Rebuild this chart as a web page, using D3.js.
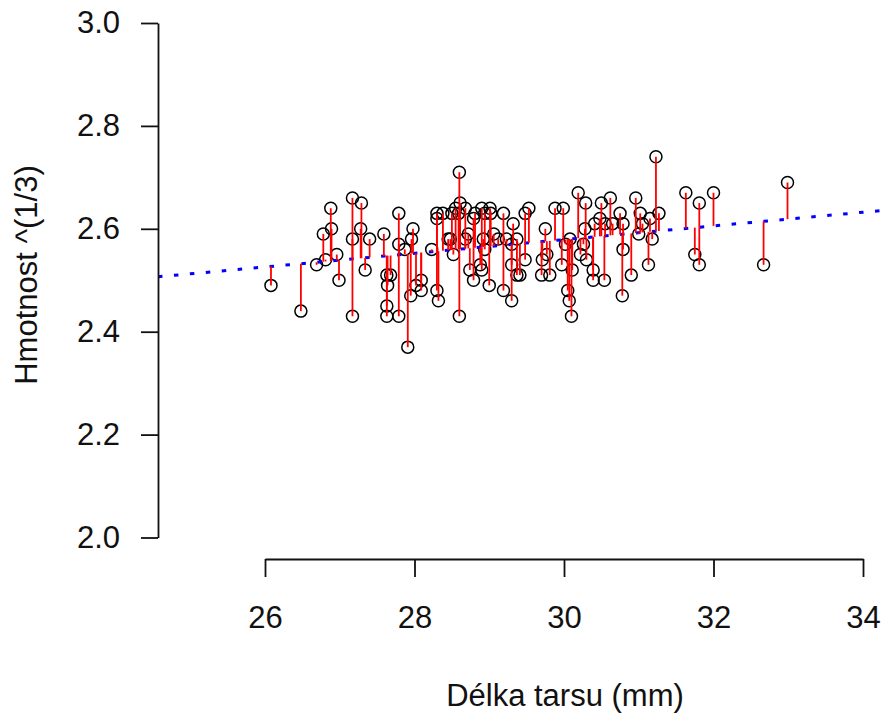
<!DOCTYPE html>
<html><head><meta charset="utf-8">
<script src="https://cdn.jsdelivr.net/npm/d3@7"></script>
<style>
html,body{margin:0;padding:0;background:#fff;}
text{font-family:"Liberation Sans",Arial,sans-serif;fill:#111;}
</style></head>
<body>
<script>
const tarsus = [26.08,26.48,26.69,26.78,26.88,26.89,26.81,26.96,26.99,27.17,27.17,27.17,27.29,27.28,27.40,27.34,27.59,27.63,27.64,27.63,27.63,27.68,27.79,27.79,27.79,27.91,27.87,27.98,27.96,28.09,27.95,28.09,28.02,28.30,28.30,28.23,28.30,28.32,28.38,28.45,28.52,28.50,28.48,28.55,28.60,28.60,28.61,28.59,28.68,28.68,28.72,28.74,28.79,28.81,28.79,28.90,28.92,28.94,28.90,28.88,28.94,29.00,29.01,29.02,29.06,29.12,29.19,29.19,29.23,29.30,29.30,29.30,29.32,29.37,29.37,29.41,29.48,29.53,29.48,29.71,29.70,29.75,29.77,29.81,29.88,29.99,29.97,30.05,30.07,30.10,30.08,30.11,30.02,30.19,30.29,30.28,30.22,30.30,30.26,30.39,30.39,30.41,30.50,30.54,30.62,30.55,30.48,30.65,30.75,30.79,30.79,30.78,30.90,30.96,31.02,31.00,31.13,31.05,31.23,31.27,31.15,31.18,31.63,31.81,31.75,31.81,32.00,32.67,32.99];
const massCbrt = [2.49,2.44,2.53,2.59,2.64,2.60,2.54,2.55,2.50,2.66,2.58,2.43,2.65,2.60,2.58,2.52,2.59,2.51,2.49,2.45,2.43,2.51,2.63,2.57,2.43,2.37,2.56,2.60,2.58,2.50,2.47,2.48,2.49,2.63,2.62,2.56,2.48,2.46,2.63,2.58,2.55,2.63,2.58,2.64,2.71,2.43,2.65,2.63,2.64,2.58,2.59,2.52,2.50,2.63,2.62,2.64,2.58,2.56,2.52,2.53,2.63,2.49,2.64,2.63,2.59,2.58,2.63,2.48,2.58,2.46,2.53,2.57,2.61,2.51,2.58,2.51,2.63,2.64,2.54,2.54,2.51,2.60,2.55,2.51,2.64,2.64,2.53,2.48,2.46,2.43,2.58,2.52,2.57,2.67,2.65,2.60,2.55,2.54,2.57,2.52,2.50,2.61,2.65,2.50,2.66,2.61,2.62,2.61,2.63,2.61,2.56,2.47,2.51,2.66,2.63,2.59,2.53,2.61,2.74,2.63,2.62,2.58,2.67,2.65,2.55,2.53,2.67,2.53,2.69];
const xTicks = [26,28,30,32,34];
const yTicks = [2.0,2.2,2.4,2.6,2.8,3.0];
const fitIntercept = 2.180;
const fitSlope = 0.0133;
const xLabel = "Délka tarsu (mm)";
const yLabel = "Hmotnost ^(1/3)";

const W = 884, H = 713;
const svg = d3.select("body").append("svg").attr("width", W).attr("height", H);

const x = d3.scaleLinear().domain([26, 34]).range([265, 863]);
const y = d3.scaleLinear().domain([2, 3]).range([537.5, 23]);
const fit = v => fitIntercept + fitSlope * v;

svg.append("defs").append("clipPath").attr("id", "plotclip")
  .append("rect").attr("x", 158).attr("y", 2).attr("width", W - 158).attr("height", 556);

const plot = svg.append("g").attr("clip-path", "url(#plotclip)");

// points
plot.append("g").selectAll("circle").data(tarsus).join("circle")
  .attr("cx", d => x(d)).attr("cy", (d, i) => y(massCbrt[i])).attr("r", 6)
  .attr("fill", "none").attr("stroke", "#000").attr("stroke-width", 1.5);

// fitted line
const xd = x.invert(158), xe = x.invert(W);
plot.append("line")
  .attr("x1", x(xd)).attr("y1", y(fit(xd)))
  .attr("x2", x(xe)).attr("y2", y(fit(xe)))
  .attr("stroke", "#0000ff").attr("stroke-width", 3)
  .attr("stroke-dasharray", "4.5,11.5");

// residual segments
plot.append("g").selectAll("line").data(tarsus).join("line")
  .attr("x1", d => x(d)).attr("x2", d => x(d))
  .attr("y1", (d, i) => y(massCbrt[i])).attr("y2", d => y(fit(d)))
  .attr("stroke", "#ff0000").attr("stroke-width", 1.8);

// y axis
const gy = svg.append("g").attr("transform", "translate(158,0)")
  .call(d3.axisLeft(y).tickValues(yTicks).tickFormat(d3.format(".1f")).tickSize(17).tickSizeOuter(0).tickPadding(21));
gy.selectAll("path,line").attr("stroke", "#111").attr("stroke-width", 1.8);
gy.selectAll("text").attr("font-size", 31).attr("fill", "#111").attr("font-family", "Liberation Sans, Arial, sans-serif");

// x axis
const gx = svg.append("g").attr("transform", "translate(0,559)")
  .call(d3.axisBottom(x).tickValues(xTicks).tickFormat(d3.format("d")).tickSize(18).tickSizeOuter(0));
gx.selectAll("path,line").attr("stroke", "#111").attr("stroke-width", 1.8);
gx.selectAll("text").attr("font-size", 31).attr("fill", "#111").attr("y", 69).attr("dy", 0)
  .attr("font-family", "Liberation Sans, Arial, sans-serif");

// titles
svg.append("text").attr("x", 565).attr("y", 706).attr("text-anchor", "middle")
  .attr("font-size", 31).text(xLabel);
svg.append("text").attr("transform", "translate(37,275) rotate(-90)").attr("text-anchor", "middle")
  .attr("font-size", 31).text(yLabel);
</script>
</body></html>
